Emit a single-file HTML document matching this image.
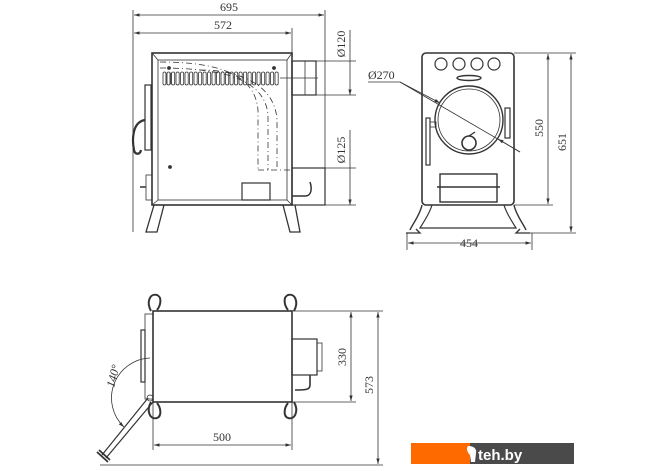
<!DOCTYPE html>
<html><head><meta charset="utf-8"><style>
html,body{margin:0;padding:0;background:#fff;width:670px;height:471px;overflow:hidden}
svg{display:block}
text{font-family:"Liberation Serif",serif;font-size:12px;fill:#333}
</style></head><body>
<svg width="670" height="471" viewBox="0 0 670 471" xmlns="http://www.w3.org/2000/svg">
<defs>
<marker id="a" viewBox="0 0 10 10" refX="10" refY="5" markerWidth="7" markerHeight="7" orient="auto-start-reverse"><path d="M0,2 L10,5 L0,8 z" fill="#333"/></marker>
</defs>
<g stroke="#333" fill="none" stroke-width="0.8">
<!-- SIDE VIEW dims -->
<line x1="133" y1="10" x2="133" y2="232"/>
<line x1="325" y1="10" x2="325" y2="205"/>
<line x1="292" y1="28" x2="292" y2="55"/>
<line x1="134" y1="15" x2="324" y2="15" marker-start="url(#a)" marker-end="url(#a)"/>
<line x1="134" y1="33" x2="291" y2="33" marker-start="url(#a)" marker-end="url(#a)"/>
<line x1="316" y1="61" x2="356" y2="61"/><line x1="316" y1="95" x2="356" y2="95"/>
<line x1="350" y1="30" x2="350" y2="95" marker-end="url(#a)"/>
<line x1="350" y1="61" x2="350" y2="61"/>
<line x1="325" y1="168" x2="356" y2="168"/><line x1="325" y1="205" x2="356" y2="205"/>
<line x1="350" y1="130" x2="350" y2="205" marker-end="url(#a)"/>
<!-- body -->
<rect x="152" y="53" width="140" height="152" stroke-width="1.6"/>
<rect x="158" y="60" width="129" height="140"/>
<line x1="152" y1="53" x2="158" y2="60"/><line x1="292" y1="53" x2="287" y2="60"/>
<line x1="152" y1="205" x2="158" y2="200"/><line x1="292" y1="205" x2="287" y2="200"/>
<g stroke-width="0.7">
<path d="M166,73 v11 M170,73 v11 M171,73 v11"/>
</g>
<!-- louvers -->
<g stroke-width="0.8" id="lv"></g>
<!-- top flue -->
<rect x="292" y="61" width="24" height="34" stroke-width="1.2"/>
<line x1="305" y1="61" x2="305" y2="95"/>
<line x1="280" y1="78" x2="318" y2="78"/>
<!-- dashed curves -->
<g stroke-dasharray="6,3,1,3" stroke-width="0.8">
<path d="M160,62 C220,62 255,75 258,110 L258,170"/>
<path d="M160,68 C225,68 265,80 268,115 L268,170"/>
<path d="M200,70 C240,70 275,85 277,120 L277,170"/>
<path d="M258,170 H292"/>
</g>
<!-- lower flue -->
<rect x="292" y="168" width="33" height="37" stroke-width="1.2"/>
<path d="M292,196 H305 C312,196 312,188 310,182" stroke-width="1.5"/>
<rect x="242" y="183" width="28" height="17" stroke-width="1.2"/>
<!-- door handle -->
<rect x="145" y="85" width="6" height="65" stroke-width="1.2"/>
<path d="M145,120 C132,122 132,140 134,150 C135,155 140,155 141,150" stroke-width="2.2"/>
<rect x="146" y="175" width="6" height="25"/>
<line x1="140" y1="187" x2="146" y2="187" stroke-width="1.5"/>
<circle cx="169" cy="68" r="1.5" fill="#333"/><circle cx="274" cy="68" r="1.5" fill="#333"/>
<circle cx="170" cy="167" r="1.5" fill="#333"/>
<!-- legs -->
<path d="M154,205 L146,232 H157 L164,205" stroke-width="1.3"/>
<path d="M283,205 L290,232 H300 L295,205" stroke-width="1.3"/>
<!-- FRONT VIEW -->
<rect x="422" y="53" width="92" height="152" rx="4" stroke-width="1.6"/>
<circle cx="441" cy="64" r="6" stroke-width="1.2"/><circle cx="459" cy="64" r="6" stroke-width="1.2"/>
<circle cx="477" cy="64" r="6" stroke-width="1.2"/><circle cx="494" cy="64" r="6" stroke-width="1.2"/>
<ellipse cx="469" cy="78" rx="12" ry="2.5" stroke-width="1.4"/>
<circle cx="469" cy="120" r="34" stroke-width="1.4"/>
<circle cx="469" cy="120" r="31"/>
<circle cx="469" cy="143" r="7" stroke-width="1.6"/>
<path d="M469,136 L475,132" stroke-width="1.2"/>
<rect x="426" y="118" width="4" height="47" stroke-width="1.2"/>
<rect x="430" y="122" width="6" height="5"/>
<rect x="505" y="108" width="5" height="30" stroke-width="1.2"/>
<rect x="440" y="174" width="57" height="28" stroke-width="1.4"/>
<line x1="437" y1="187" x2="500" y2="187" stroke-width="1.6"/>
<path d="M422,205 C420,215 412,225 410,230 M514,205 C516,215 524,225 526,230" stroke-width="1.4"/>
<path d="M432,205 C430,212 425,220 420,228 H516 C511,220 506,212 504,205" stroke-width="1.2"/>
<path d="M406,233 H420 L416,229 M530,233 H516 L520,229" stroke-width="1.3"/>
<line x1="368" y1="82" x2="400" y2="82"/>
<line x1="400" y1="82" x2="520" y2="152"/>
<line x1="400" y1="82" x2="440" y2="103" marker-end="url(#a)"/>
<line x1="520" y1="152" x2="498" y2="139" marker-end="url(#a)"/>
<line x1="514" y1="53" x2="576" y2="53"/><line x1="514" y1="205" x2="553" y2="205"/>
<line x1="526" y1="233" x2="576" y2="233"/>
<line x1="548" y1="54" x2="548" y2="204" marker-start="url(#a)" marker-end="url(#a)"/>
<line x1="571" y1="54" x2="571" y2="232" marker-start="url(#a)" marker-end="url(#a)"/>
<line x1="407" y1="233" x2="407" y2="250"/><line x1="532" y1="233" x2="532" y2="250"/>
<line x1="408" y1="243" x2="531" y2="243" marker-start="url(#a)" marker-end="url(#a)"/>
<!-- TOP VIEW -->
<rect x="153" y="311" width="139" height="91" stroke-width="1.6"/>
<rect x="145" y="314" width="8" height="85"/>
<rect x="141" y="330" width="4" height="52" stroke-width="1.2"/>
<path d="M151,311 C146,302 150,293 157,295 C162,297 161,305 157,310" stroke-width="2"/>
<path d="M294,311 C299,302 295,293 288,295 C283,297 284,305 288,310" stroke-width="2"/>
<path d="M151,402 C146,411 150,420 157,418 C162,416 161,408 157,403" stroke-width="2"/>
<path d="M294,402 C299,411 295,420 288,418 C283,416 284,408 288,403" stroke-width="2"/>
<rect x="292" y="339" width="25" height="36" stroke-width="1.2"/>
<rect x="317" y="343" width="5" height="28"/>
<path d="M310,375 V385 C310,390 305,390 295,390" stroke-width="1.6"/>
<line x1="292" y1="311" x2="383" y2="311"/><line x1="292" y1="402" x2="356" y2="402"/>
<line x1="100" y1="465" x2="383" y2="465"/>
<line x1="351" y1="312" x2="351" y2="401" marker-start="url(#a)" marker-end="url(#a)"/>
<line x1="378" y1="312" x2="378" y2="464" marker-start="url(#a)" marker-end="url(#a)"/>
<line x1="153" y1="402" x2="153" y2="450"/><line x1="292" y1="402" x2="292" y2="450"/>
<line x1="154" y1="445" x2="291" y2="445" marker-start="url(#a)" marker-end="url(#a)"/>
<path d="M148,398 L102,455 M153,402 L106,458" stroke-width="1.2"/>
<path d="M97,452 L108,462 M99,450 L110,460" stroke-width="1.8"/>
<circle cx="150" cy="398" r="3"/>
<path d="M150,358 A40,40 0 0 0 124,427" marker-end="url(#a)"/>
</g>
<g fill="#333">
<rect x="163" y="72" width="3" height="13" rx="1.5" fill="none" stroke="#333" stroke-width="0.8"/>
</g>
<g fill="none" stroke="#333" stroke-width="0.8">
<rect x="167" y="72" width="3.2" height="13" rx="1.6"/><rect x="171.5" y="72" width="3.2" height="13" rx="1.6"/>
<rect x="176" y="72" width="3.2" height="13" rx="1.6"/><rect x="180.5" y="72" width="3.2" height="13" rx="1.6"/>
<rect x="185" y="72" width="3.2" height="13" rx="1.6"/><rect x="189.5" y="72" width="3.2" height="13" rx="1.6"/>
<rect x="194" y="72" width="3.2" height="13" rx="1.6"/><rect x="198.5" y="72" width="3.2" height="13" rx="1.6"/>
<rect x="203" y="72" width="3.2" height="13" rx="1.6"/><rect x="207.5" y="72" width="3.2" height="13" rx="1.6"/>
<rect x="212" y="72" width="3.2" height="13" rx="1.6"/><rect x="216.5" y="72" width="3.2" height="13" rx="1.6"/>
<rect x="221" y="72" width="3.2" height="13" rx="1.6"/><rect x="225.5" y="72" width="3.2" height="13" rx="1.6"/>
<rect x="230" y="72" width="3.2" height="13" rx="1.6"/><rect x="234.5" y="72" width="3.2" height="13" rx="1.6"/>
<rect x="239" y="72" width="3.2" height="13" rx="1.6"/><rect x="243.5" y="72" width="3.2" height="13" rx="1.6"/>
<rect x="248" y="72" width="3.2" height="13" rx="1.6"/><rect x="252.5" y="72" width="3.2" height="13" rx="1.6"/>
<rect x="257" y="72" width="3.2" height="13" rx="1.6"/><rect x="261.5" y="72" width="3.2" height="13" rx="1.6"/>
<rect x="266" y="72" width="3.2" height="13" rx="1.6"/><rect x="270.5" y="72" width="3.2" height="13" rx="1.6"/>
<rect x="275" y="72" width="3.2" height="13" rx="1.6"/>
</g>
<text x="229" y="11" text-anchor="middle">695</text>
<text x="223" y="29" text-anchor="middle">572</text>
<text transform="translate(345,44) rotate(-90)" text-anchor="middle">Ø120</text>
<text transform="translate(345,150) rotate(-90)" text-anchor="middle">Ø125</text>
<text x="368" y="79">Ø270</text>
<text transform="translate(543,128) rotate(-90)" text-anchor="middle">550</text>
<text transform="translate(566,142) rotate(-90)" text-anchor="middle">651</text>
<text x="469" y="247" text-anchor="middle">454</text>
<text transform="translate(346,357) rotate(-90)" text-anchor="middle">330</text>
<text transform="translate(373,385) rotate(-90)" text-anchor="middle">573</text>
<text x="222" y="441" text-anchor="middle">500</text>
<text transform="translate(117,377) rotate(-75)" text-anchor="middle" font-style="italic">140°</text>
<rect x="411" y="443" width="59" height="21" fill="#ff6a00"/>
<rect x="470" y="443" width="104" height="21" fill="#4a4a4a"/>
<path d="M468,446 C474,446 477,449 476,453 L475,462 H471 L470,455 C467,452 466,448 468,446 z" fill="#fff"/>
<text x="478" y="460" style="font-family:'Liberation Sans',sans-serif;font-size:15px;font-weight:bold;fill:#fff">teh.by</text>
</svg>
</body></html>
